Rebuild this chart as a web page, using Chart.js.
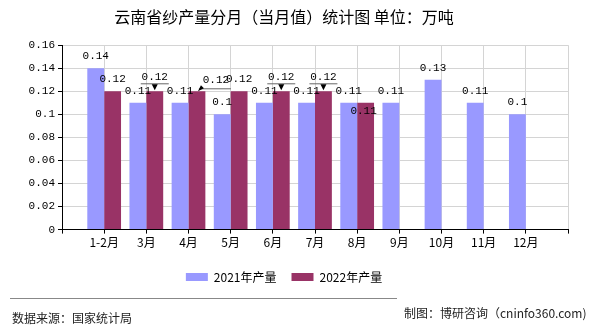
<!DOCTYPE html>
<html>
<head>
<meta charset="utf-8">
<script src="https://cdn.jsdelivr.net/npm/chart.js@4.4.0/dist/chart.umd.min.js"></script>
<style>
  body { margin: 0; background: #fff; }
  #wrap { position: relative; width: 590px; height: 330px; }
  .rule { position: absolute; left: 10px; top: 298px; width: 387px; height: 1px; background: #888; }
  .note { position: absolute; font: 12px "Noto Sans CJK SC", sans-serif; color: #222; line-height: 14px; white-space: nowrap; }
</style>
</head>
<body>
<div id="wrap">
  <canvas id="myChart" width="590" height="330"></canvas>
  <div class="rule"></div>
  <div class="note" style="left:12px; top:311px;">数据来源：国家统计局</div>
  <div class="note" style="left:404px; top:306px;">制图：博研咨询（cninfo360.com)</div>
</div>
<script>
  // Data
  var months = ['1-2月', '3月', '4月', '5月', '6月', '7月', '8月', '9月', '10月', '11月', '12月'];
  var output2021 = [0.14, 0.11, 0.11, 0.1, 0.11, 0.11, 0.11, 0.11, 0.13, 0.11, 0.1];
  var output2022 = [0.12, 0.12, 0.12, 0.12, 0.12, 0.12, 0.11];
  var yMin = 0, yMax = 0.16, yStep = 0.02;

  // how the 2022 labels dodge the 2021 ones (same as the original picture)
  var callouts2022 = ['', 'down', 'left', '', 'down', 'down', 'below'];

  // one empty slot at each end, the months sit on the grid lines
  var labels = [''].concat(months, ['']);
  var data2021 = [null].concat(output2021);
  var data2022 = [null].concat(output2022);

  const barLabels = {
    id: 'barLabels',
    afterDatasetsDraw(chart) {
      const ctx = chart.ctx;
      ctx.save();
      ctx.font = '11px "Liberation Mono", monospace';
      ctx.textAlign = 'center';
      ctx.textBaseline = 'middle';
      chart.data.datasets.forEach((ds, i) => {
        chart.getDatasetMeta(i).data.forEach((bar, j) => {
          const v = ds.data[j];
          if (v == null) return;
          const txt = String(v);
          const kind = i === 1 ? (callouts2022[j - 1] || '') : '';
          const x = bar.x, y = bar.y;
          ctx.fillStyle = '#000';
          if (kind === 'down') {
            ctx.fillText(txt, x, y - 14);
            ctx.strokeStyle = '#666';
            ctx.lineWidth = 1;
            ctx.beginPath();
            ctx.moveTo(x - 14, y - 7.5);
            ctx.lineTo(x + 14, y - 7.5);
            ctx.stroke();
            ctx.beginPath();
            ctx.moveTo(x - 3, y - 7);
            ctx.lineTo(x + 3, y - 7);
            ctx.lineTo(x, y - 1);
            ctx.closePath();
            ctx.fill();
          } else if (kind === 'left') {
            ctx.fillText(txt, x + 19, y - 11);
            ctx.strokeStyle = '#666';
            ctx.lineWidth = 1;
            ctx.beginPath();
            ctx.moveTo(x + 2, y - 2.5);
            ctx.lineTo(x + 34, y - 2.5);
            ctx.stroke();
            ctx.beginPath();
            ctx.moveTo(x + 1, y);
            ctx.lineTo(x + 4, y - 6);
            ctx.lineTo(x + 7, y - 3);
            ctx.closePath();
            ctx.fill();
          } else if (kind === 'below') {
            ctx.fillText(txt, x - 2, y + 8);
          } else {
            ctx.fillText(txt, x, y - 12);
          }
        });
      });
      ctx.restore();
    }
  };

  var myChart = new Chart(document.getElementById('myChart'), {
    type: 'bar',
    data: {
      labels: labels,
      datasets: [{
        label: '2021年产量',
        data: data2021,
        backgroundColor: '#9999ff',
        borderWidth: 0
      }, {
        label: '2022年产量',
        data: data2022,
        backgroundColor: '#993366',
        borderWidth: 0
      }]
    },
    options: {
      responsive: false,
      animation: false,
      layout: {
        padding: { left: 0, right: 22, top: 0, bottom: 37 }
      },
      datasets: {
        bar: { categoryPercentage: 0.8, barPercentage: 1 }
      },
      scales: {
        x: {
          offset: false,
          grid: { offset: false, color: '#d4d4d4', tickColor: '#000', tickLength: 4 },
          border: { color: '#000' },
          // empty title only to leave a gap above the legend
          title: { display: true, text: '', padding: 0, font: { size: 4, lineHeight: 1 } },
          ticks: {
            autoSkip: false,
            maxRotation: 0,
            padding: 2,
            color: '#000',
            font: { family: '"Noto Sans CJK SC", sans-serif', size: 12 }
          }
        },
        y: {
          min: yMin,
          max: yMax,
          afterFit: function (scale) { scale.width = 62; },
          grid: { color: '#d4d4d4', tickColor: '#000', tickLength: 4 },
          border: { color: '#000' },
          ticks: {
            stepSize: yStep,
            padding: 3,
            color: '#000',
            font: { family: '"Liberation Mono", monospace', size: 11 },
            callback: function (value) { return String(Number(value.toFixed(2))); }
          }
        }
      },
      plugins: {
        title: {
          display: true,
          text: '云南省纱产量分月（当月值）统计图 单位：万吨',
          color: '#000',
          font: { family: '"Noto Sans CJK SC", sans-serif', size: 16, weight: 'normal' },
          padding: { top: 7, bottom: 19 }
        },
        legend: {
          position: 'bottom',
          labels: {
            boxWidth: 22,
            boxHeight: 8,
            padding: 15,
            color: '#000',
            font: { family: '"Noto Sans CJK SC", sans-serif', size: 12 }
          }
        },
        tooltip: { enabled: false }
      }
    },
    plugins: [barLabels]
  });
</script>
</body>
</html>
